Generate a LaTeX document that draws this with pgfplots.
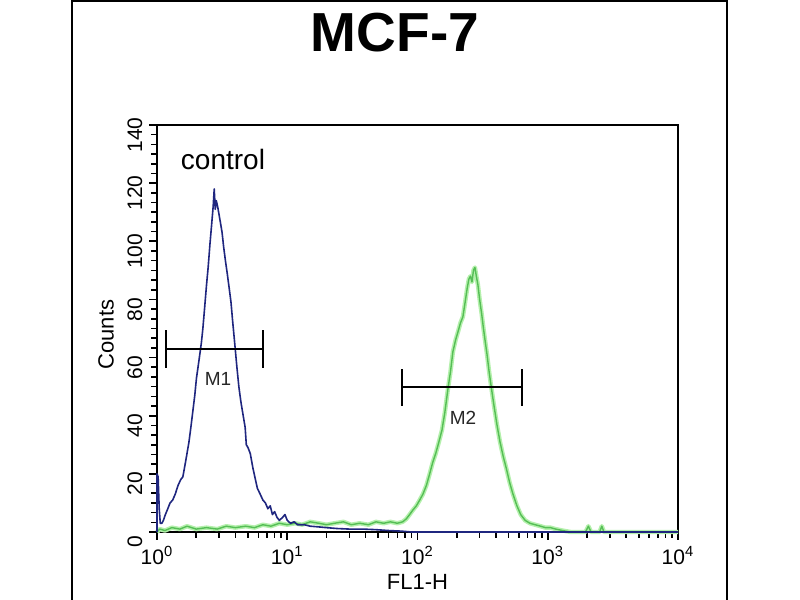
\documentclass[border=0pt]{standalone}
\usepackage{fontspec}
\setmainfont{Liberation Sans}
\usepackage{pgfplots}
\pgfplotsset{compat=1.18}

\definecolor{ctrlblue}{HTML}{1F267F}
\definecolor{mgreen}{HTML}{55BE55}
\definecolor{mglow}{HTML}{B4F0AC}

\begin{document}
\begin{tikzpicture}
\clip (0,0) rectangle (400pt,300pt);
\fill[white] (0,0) rectangle (400pt,300pt);
\draw[line width=1pt] (36pt,-5pt) rectangle (363.5pt,299.4pt);
\node[font=\fontsize{27.5}{32}\selectfont\bfseries] at (197.5pt,283.5pt) {MCF-7};

\begin{axis}[
    at={(78.5pt,34pt)}, anchor=south west,
    scale only axis, width=260.5pt, height=203.5pt,
    xmode=log, xmin=1, xmax=10000,
    ymin=0, ymax=140,
    xtick={1,10,100,1000,10000},
    xticklabels={10\textsuperscript{0},10\textsuperscript{1},10\textsuperscript{2},10\textsuperscript{3},10\textsuperscript{4}},
    minor xtick={2,3,4,5,6,7,8,9,20,30,40,50,60,70,80,90,200,300,400,500,600,700,800,900,2000,3000,4000,5000,6000,7000,8000,9000},
    ytick={0,20,...,140},
    minor y tick num=5,
    tick pos=left,
    tick align=outside,
    major tick length=3.8pt, minor tick length=2.8pt,
    tick style={black, line width=0.8pt},
    axis line style={line width=1pt},
    /pgf/number format/assume math mode=true,
    ticklabel style={font=\fontsize{10.5}{12}\selectfont},
    xticklabel style={yshift=0pt},
    yticklabel style={rotate=90, anchor=south, xshift=-5pt},
    xlabel={FL1-H}, ylabel={Counts},
    label style={font=\fontsize{11}{13}\selectfont},
    xlabel style={at={(axis description cs:0.5,-0.123)}, anchor=center},
    ylabel style={at={(axis description cs:-0.098,0.485)}, anchor=center},
    clip=false,
]

% stained sample
\addplot[mglow, line width=2.2pt, line join=round] coordinates {
(1,0)(1.05,1)(1.15,0.5)(1.3,1.5)(1.5,1)(1.7,2)(2.0,1)(2.4,1.5)(2.9,1)(3.4,2)
(4.0,1.5)(4.8,2)(5.6,1.5)(6.5,2.5)(7.5,2)(8.7,3)(10,2.5)(11.5,3)(13,2.5)(15,3.5)
(17.5,3)(20,2.5)(23,3)(27,3.5)(31,2.5)(36,3)(42,2.5)(48,3.5)(55,3)(62,3.5)
(70,3)(77,3.5)(82,4.5)(87,6)(92,7.5)(98,9)(104,11)(110,13)(117,16)(124,20)
(131,24)(138,27)(146,31)(154,35)(162,41)(171,49)(179,55)(187,62)(196,66)(205,69)
(214,72)(223,74)(232,79)(241,84)(248,87)(255,88)(262,86)(269,90)(276,91)(283,88)
(291,85)(300,80)(311,75)(321,70)(330,66)(342,61)(355,55)(368,50)(385,44)(407,37)
(430,31)(455,26)(480,22)(510,17)(541,13)(580,9)(620,6)(670,4)(730,3)(800,2.5)
(880,2)(960,1.5)(1050,1.5)(1150,1)(1300,0.5)(1500,0)(1950,0)(2050,2)(2150,0)
(2500,0)(2600,2)(2700,0)(10000,0)
};
\addplot[mgreen, line width=0.7pt, line join=round] coordinates {
(1,0)(1.05,1)(1.15,0.5)(1.3,1.5)(1.5,1)(1.7,2)(2.0,1)(2.4,1.5)(2.9,1)(3.4,2)
(4.0,1.5)(4.8,2)(5.6,1.5)(6.5,2.5)(7.5,2)(8.7,3)(10,2.5)(11.5,3)(13,2.5)(15,3.5)
(17.5,3)(20,2.5)(23,3)(27,3.5)(31,2.5)(36,3)(42,2.5)(48,3.5)(55,3)(62,3.5)
(70,3)(77,3.5)(82,4.5)(87,6)(92,7.5)(98,9)(104,11)(110,13)(117,16)(124,20)
(131,24)(138,27)(146,31)(154,35)(162,41)(171,49)(179,55)(187,62)(196,66)(205,69)
(214,72)(223,74)(232,79)(241,84)(248,87)(255,88)(262,86)(269,90)(276,91)(283,88)
(291,85)(300,80)(311,75)(321,70)(330,66)(342,61)(355,55)(368,50)(385,44)(407,37)
(430,31)(455,26)(480,22)(510,17)(541,13)(580,9)(620,6)(670,4)(730,3)(800,2.5)
(880,2)(960,1.5)(1050,1.5)(1150,1)(1300,0.5)(1500,0)(1950,0)(2050,2)(2150,0)
(2500,0)(2600,2)(2700,0)(10000,0)
};

% control
\addplot[ctrlblue, line width=0.8pt, line join=round] coordinates {
(1.000,0)(1.000,20)(1.02,19)(1.04,8)(1.06,3)(1.09,3)(1.12,4)(1.16,6)(1.21,8)(1.26,10)
(1.32,11)(1.38,13)(1.45,16)(1.52,18)(1.58,19)(1.64,23)(1.70,27)(1.76,31)(1.82,36)(1.89,42)
(1.95,47)(2.01,53)(2.07,57)(2.13,61)(2.19,65)(2.25,70)(2.32,77)(2.40,85)(2.47,91)(2.55,99)
(2.63,106)(2.70,112)(2.75,118)(2.80,111)(2.85,114)(2.92,112)(3.00,109)(3.08,106)(3.16,103)(3.25,98)
(3.36,93)(3.46,89)(3.58,84)(3.70,79)(3.80,73)(3.95,65)(4.10,57)(4.25,50)(4.40,45)(4.55,41)
(4.75,36)(4.85,30)(5.00,29)(5.20,27)(5.45,22)(5.70,18)(5.90,15)(6.20,13)(6.50,11)(6.80,10)
(7.10,8)(7.40,9)(7.70,6)(8.00,7)(8.35,5)(8.70,4)(9.20,5)(9.60,6)(10.0,4)(10.6,3)
(11.3,3.5)(12.0,2.5)(13.5,2.5)(15,2)(17,1.8)(20,1.5)(24,1.2)(30,1)(38,1)(48,0.8)
(60,0.5)(75,0.3)(90,0)(10000,0)
};

% marker M1
\addplot[black, line width=0.9pt] coordinates {(1.172,63)(6.51,63)};
\addplot[black, line width=0.9pt] coordinates {(1.172,56.5)(1.172,69.5)};
\addplot[black, line width=0.9pt] coordinates {(6.51,56.5)(6.51,69.5)};
% marker M2
\addplot[black, line width=0.9pt] coordinates {(76,50)(634,50)};
\addplot[black, line width=0.9pt] coordinates {(76,43.5)(76,56)};
\addplot[black, line width=0.9pt] coordinates {(634,43.5)(634,56)};

\node[font=\fontsize{9.5}{11}\selectfont, text=black!85] at (axis cs:2.94,52.6) {M1};
\node[font=\fontsize{9.5}{11}\selectfont, text=black!85] at (axis cs:223.5,39.2) {M2};
\node[font=\fontsize{14}{16}\selectfont] at (axis cs:3.21,128) {control};
\end{axis}
\end{tikzpicture}
\end{document}
